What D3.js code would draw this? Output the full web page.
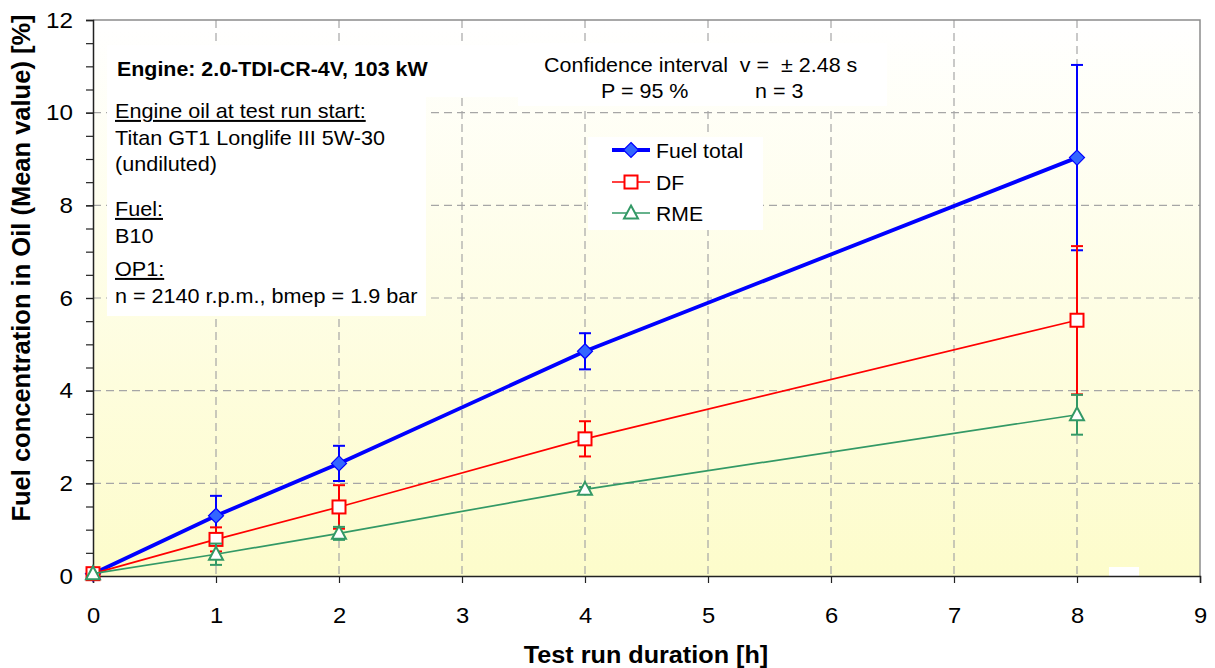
<!DOCTYPE html>
<html>
<head>
<meta charset="utf-8">
<script src="https://cdn.jsdelivr.net/npm/d3@7"></script>
<style>
  body { margin: 0; background: #fff; }
  svg { display: block; font-family: "Liberation Sans", Arial, sans-serif; }
</style>
</head>
<body>
<svg id="chart" width="1215" height="668"></svg>
<script>
// data
const hours = [0, 1, 2, 4, 8];
const fuelTotal = [0.05, 1.30, 2.43, 4.85, 9.03];
const fuelTotalErr = [0, 0.43, 0.38, 0.39, 2.0];
const dfVals = [0.05, 0.79, 1.49, 2.96, 5.52];
const dfErr = [0, 0.26, 0.47, 0.38, 1.6];
const rmeVals = [0.05, 0.47, 0.92, 1.87, 3.48];
const rmeErr = [0, 0.23, 0.14, 0.05, 0.43];
const xTicks = [0, 1, 2, 3, 4, 5, 6, 7, 8, 9];
const yTicks = [0, 2, 4, 6, 8, 10, 12];
const seriesNames = ["Fuel total", "DF", "RME"];

let svg = d3.select("#chart");
const pLeft = 93, pRight = 1200, pTop = 20, pBottom = 576;
const sx = 1.08; // the original text is a bit wider than tall

let x = d3.scaleLinear().domain([0, 9]).range([pLeft, pRight]);
let y = d3.scaleLinear().domain([0, 12]).range([pBottom, pTop]);

// text put at (tx,ty) and widened a little
function label(parent, tx, ty, str, size, opts) {
    opts = opts || {};
    let t = parent.append("text")
        .attr("transform", `translate(${tx},${ty}) scale(${opts.sx || sx},1)`)
        .attr("font-size", size)
        .text(str);
    if (opts.bold) t.attr("font-weight", "bold");
    if (opts.anchor) t.attr("text-anchor", opts.anchor);
    if (opts.underline) t.attr("text-decoration", "underline");
    return t;
}

// plot background gradient
let grad = svg.append("defs").append("linearGradient")
    .attr("id", "bg").attr("x1", 0).attr("y1", 0).attr("x2", 0).attr("y2", 1);
grad.append("stop").attr("offset", "0%").attr("stop-color", "#ffffff");
grad.append("stop").attr("offset", "100%").attr("stop-color", "#fdfccb");

svg.append("rect")
    .attr("x", pLeft).attr("y", pTop)
    .attr("width", pRight - pLeft).attr("height", pBottom - pTop)
    .attr("fill", "url(#bg)");

// grid
let grid = svg.append("g").attr("stroke", "#a6a6a6").attr("stroke-dasharray", "8,5").attr("stroke-width", 1.2);
grid.selectAll(".vg").data(xTicks.filter(d => d > 0 && d < 9)).enter().append("line")
    .attr("x1", d => x(d)).attr("x2", d => x(d))
    .attr("y1", pTop).attr("y2", pBottom);
grid.selectAll(".hg").data(yTicks.filter(d => d > 0 && d < 12)).enter().append("line")
    .attr("x1", pLeft).attr("x2", pRight)
    .attr("y1", d => y(d)).attr("y2", d => y(d));

// white boxes (annotation + legend)
let boxes = [[107, 45, 411, 52], [107, 45, 319, 271], [518, 43, 369, 63], [588, 137, 175, 93]];
svg.selectAll(".box").data(boxes).enter().append("rect")
    .attr("x", d => d[0]).attr("y", d => d[1])
    .attr("width", d => d[2]).attr("height", d => d[3])
    .attr("fill", "#fff");
svg.append("rect").attr("x", 1109).attr("y", 567).attr("width", 30).attr("height", 9).attr("fill", "#fff");

// border top/right
svg.append("path")
    .attr("d", `M${pLeft},${pTop}H${pRight}V${pBottom}`)
    .attr("fill", "none").attr("stroke", "#8c8c8c").attr("stroke-width", 1.5);

// axes
let xAxis = svg.append("g")
    .attr("transform", `translate(0,${pBottom})`)
    .call(d3.axisBottom(x).tickValues(xTicks).tickSize(7).tickPadding(24).tickFormat(d3.format("d")));
xAxis.select(".domain").attr("stroke", "#222").attr("stroke-width", 1.5);
xAxis.selectAll(".tick line").attr("stroke", "#222").attr("stroke-width", 1.2);
xAxis.selectAll("text").attr("font-size", 22).attr("fill", "#000")
    .attr("transform", `scale(${sx},1)`);

let yMinor = d3.range(0, 12.01, 0.5);
let yAxisMinor = svg.append("g")
    .attr("transform", `translate(${pLeft},0)`)
    .call(d3.axisLeft(y).tickValues(yMinor).tickSize(7).tickFormat(""));
yAxisMinor.select(".domain").remove();
yAxisMinor.selectAll(".tick line").attr("stroke", "#222").attr("stroke-width", 1.2);

let yAxis = svg.append("g")
    .attr("transform", `translate(${pLeft},0)`)
    .call(d3.axisLeft(y).tickValues(yTicks).tickSize(7).tickFormat(d3.format("d")));
yAxis.select(".domain").attr("stroke", "#222").attr("stroke-width", 1.5);
yAxis.selectAll(".tick line").attr("stroke", "#222").attr("stroke-width", 1.2);
yAxis.selectAll("text").attr("font-size", 22).attr("fill", "#000")
    .attr("x", -20 / 1.1).attr("transform", "scale(1.1,1)");

// axis titles
label(svg, 646, 663, "Test run duration [h]", 24, {bold: true, anchor: "middle", sx: 1.05});
svg.append("text")
    .attr("transform", "translate(30,268) rotate(-90)")
    .attr("text-anchor", "middle")
    .attr("font-size", 25.5).attr("font-weight", "bold")
    .text("Fuel concentration in Oil (Mean value) [%]");

// series
let series = [
    {name: seriesNames[0], vals: fuelTotal, err: fuelTotalErr, color: "#0000ff", lw: 3.8, ew: 2, marker: "diamond"},
    {name: seriesNames[1], vals: dfVals, err: dfErr, color: "#ff0000", lw: 1.7, ew: 2, marker: "square"},
    {name: seriesNames[2], vals: rmeVals, err: rmeErr, color: "#339966", lw: 1.7, ew: 2, marker: "triangle"}
];

let line = d3.line().x(d => x(d.h)).y(d => y(d.v));

function drawMarker(g, type, color) {
    if (type === "diamond") {
        g.append("path").attr("d", "M0,-7.5L7.5,0L0,7.5L-7.5,0Z")
            .attr("fill", "#3366ff").attr("stroke", "#0000ff").attr("stroke-width", 1.2);
    } else if (type === "square") {
        g.append("rect").attr("x", -6.5).attr("y", -6.5).attr("width", 13).attr("height", 13)
            .attr("fill", "#fff").attr("stroke", color).attr("stroke-width", 2);
    } else {
        g.append("path").attr("d", "M0,-7.5L7,5.5L-7,5.5Z")
            .attr("fill", "#fff").attr("stroke", color).attr("stroke-width", 2);
    }
}

series.forEach(s => {
    let pts = hours.map((h, i) => ({h: h, v: s.vals[i], e: s.err[i]}));
    let g = svg.append("g");
    // error bars
    let eb = g.selectAll(".err").data(pts.filter(p => p.e > 0)).enter().append("g")
        .attr("stroke", s.color).attr("stroke-width", s.ew);
    eb.append("line")
        .attr("x1", d => x(d.h)).attr("x2", d => x(d.h))
        .attr("y1", d => y(d.v - d.e)).attr("y2", d => y(d.v + d.e));
    eb.append("line")
        .attr("x1", d => x(d.h) - 6).attr("x2", d => x(d.h) + 6)
        .attr("y1", d => y(d.v + d.e)).attr("y2", d => y(d.v + d.e));
    eb.append("line")
        .attr("x1", d => x(d.h) - 6).attr("x2", d => x(d.h) + 6)
        .attr("y1", d => y(d.v - d.e)).attr("y2", d => y(d.v - d.e));
    g.append("path").datum(pts)
        .attr("d", line).attr("fill", "none")
        .attr("stroke", s.color).attr("stroke-width", s.lw);
    g.selectAll(".mk").data(pts).enter().append("g")
        .attr("transform", d => `translate(${x(d.h)},${y(d.v)})`)
        .each(function () { drawMarker(d3.select(this), s.marker, s.color); });
});

// legend
let legend = svg.append("g");
series.forEach((s, i) => {
    let ly = [150, 182, 213][i];
    legend.append("line").attr("x1", 612).attr("x2", 650).attr("y1", ly).attr("y2", ly)
        .attr("stroke", s.color).attr("stroke-width", s.lw);
    let mg = legend.append("g").attr("transform", `translate(631,${ly})`);
    drawMarker(mg, s.marker, s.color);
    label(legend, 656, ly + 7.5, s.name, 20, {sx: 1.06});
});

// annotation text
let note = svg.append("g");
label(note, 117, 76, "Engine: 2.0-TDI-CR-4V, 103 kW", 20, {bold: true, sx: 1.07});
let noteLines = [
    ["Engine oil at test run start:", 118, true],
    ["Titan GT1 Longlife III 5W-30", 145, false],
    ["(undiluted)", 171, false],
    ["Fuel:", 216, true],
    ["B10", 243, false],
    ["OP1:", 276, true],
    ["n = 2140 r.p.m., bmep = 1.9 bar", 303, false]
];
noteLines.forEach(l => {
    label(note, 115, l[1], l[0], 20, {underline: l[2]});
});

let conf = svg.append("g");
label(conf, 544, 72, "Confidence interval  v =  \u00b1 2.48 s", 20, {sx: 1.075}).style("white-space", "pre");
label(conf, 601, 98, "P = 95 %", 20, {sx: 1.075});
label(conf, 755, 98, "n = 3", 20, {sx: 1.075});
</script>
</body>
</html>
